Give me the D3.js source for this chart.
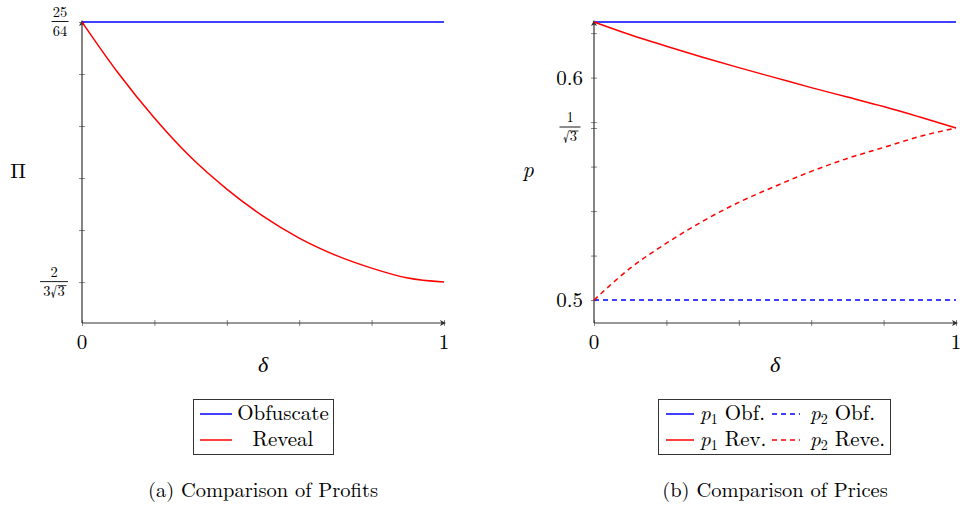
<!DOCTYPE html>
<html><head><meta charset="utf-8">
<script src="https://cdn.jsdelivr.net/npm/d3@7"></script>
<style>body{margin:0;background:#fff}svg{display:block}</style>
</head><body><svg id="c" width="960" height="510"></svg>
<script>
// ---- data ----
const delta = [0, 0.1, 0.2, 0.3, 0.4, 0.5, 0.6, 0.7, 0.8, 0.9, 1.0];
const profitObf = [0.390625, 0.390625, 0.390625, 0.390625, 0.390625, 0.390625, 0.390625, 0.390625, 0.390625, 0.390625, 0.390625];
const profitRev = [0.390625, 0.389502, 0.388511, 0.387652, 0.386948, 0.386353, 0.385869, 0.385494, 0.385208, 0.384988, 0.384900];
const p1Obf = [0.625, 0.625, 0.625, 0.625, 0.625, 0.625, 0.625, 0.625, 0.625, 0.625, 0.625];
const p2Obf = [0.5, 0.5, 0.5, 0.5, 0.5, 0.5, 0.5, 0.5, 0.5, 0.5, 0.5];
const p1Rev = [0.625, 0.61927, 0.61412, 0.60918, 0.60448, 0.6, 0.59551, 0.59125, 0.58699, 0.58228, 0.57735];
const p2Rev = [0.5, 0.51435, 0.52556, 0.53542, 0.54394, 0.55112, 0.55784, 0.56367, 0.56861, 0.57354, 0.57735];
const xTicks = [0, 0.2, 0.4, 0.6, 0.8, 1];
const xTickLabels = ["0", "", "", "", "", "1"];
const yTicksA = [0.3849, 0.386045, 0.38719, 0.388335, 0.38948, 0.390625];
const yTicksB = [0.5, 0.52, 0.54, 0.56, 0.57735, 0.58, 0.6, 0.62];
const yLabelsB = [{v: 0.6, t: "0.6"}, {v: 0.5, t: "0.5"}];
const legendA = ["Obfuscate", "Reveal"];
const legendB = [["p", "1", " Obf."], ["p", "2", " Obf."], ["p", "1", " Rev."], ["p", "2", " Reve."]];
const captions = ["(a) Comparison of Profits", "(b) Comparison of Prices"];

const FONT = '"Latin Modern Roman", "CMU Serif", "Liberation Serif", serif';
const svg = d3.select("#c");
const BLUE = "#0000ff", RED = "#ff0000", AX = "#333";

function T(sel) { return sel.append("text").style("font-family", FONT).attr("fill", "#000"); }

const xA = d3.scaleLinear([0, 1], [82, 444]);
const yA = d3.scaleLinear([0.384, 0.390625], [323, 22]);
const xB = d3.scaleLinear([0, 1], [594, 956]);
const yB = d3.scaleLinear([0.4897, 0.625], [323, 22]);

function axes(x, y, yt) {
  const g = svg.append("g");
  const x0 = x.range()[0], y0 = y.range()[0];
  g.append("g").attr("transform", `translate(0,${y0})`)
    .call(d3.axisBottom(x).tickValues(xTicks).tickSize(3).tickFormat(""));
  g.append("g").attr("transform", `translate(0,${y0})`)
    .call(d3.axisTop(x).tickValues(xTicks).tickSize(3).tickFormat(""));
  g.append("g").attr("transform", `translate(${x0},0)`)
    .call(d3.axisLeft(y).tickValues(yt).tickSize(3).tickFormat(""));
  g.append("g").attr("transform", `translate(${x0},0)`)
    .call(d3.axisRight(y).tickValues(yt).tickSize(3).tickFormat(""));
  g.selectAll(".domain").remove();
  g.selectAll(".tick line").attr("stroke", "#666").attr("stroke-width", 0.8);
  const x1 = x.range()[1], y1 = y.range()[1];
  g.append("line").attr("x1", x0).attr("x2", x1 + 1).attr("y1", y0).attr("y2", y0).attr("stroke", AX).attr("stroke-width", 1.2);
  g.append("line").attr("x1", x0).attr("x2", x0).attr("y1", y0).attr("y2", y1 - 1).attr("stroke", AX).attr("stroke-width", 1.2);
  g.append("path").attr("d", `M${x1 + 2},${y0} l-6,-3 l1.5,3 l-1.5,3 Z`).attr("fill", AX);
  g.append("path").attr("d", `M${x0},${y1 - 2} l-3,6 l3,-1.5 l3,1.5 Z`).attr("fill", AX);
  xTicks.forEach((v, i) => {
    if (xTickLabels[i]) T(g).attr("x", x(v)).attr("y", y0 + 26).attr("text-anchor", "middle").attr("font-size", 21).text(xTickLabels[i]);
  });
}

// fraction: numerator tspan over denominator tspan with a bar between
function frac(cx, cy, num, den, fs, w) {
  const g = svg.append("g");
  const t = T(g).attr("font-size", fs).attr("text-anchor", "middle");
  t.append("tspan").attr("x", cx).attr("y", cy - 5).text(num);
  t.append("tspan").attr("x", cx).attr("y", cy + 14).text(den);
  g.append("line").attr("x1", cx - w / 2).attr("x2", cx + w / 2).attr("y1", cy).attr("y2", cy).attr("stroke", "#000").attr("stroke-width", 0.9);
  return g;
}

// ---- Panel A ----
axes(xA, yA, yTicksA);
const lineA = d3.line().x((d, i) => xA(delta[i])).y(d => yA(d)).curve(d3.curveMonotoneX);
svg.append("path").attr("d", lineA(profitObf)).attr("fill", "none").attr("stroke", BLUE).attr("stroke-width", 1.5);
svg.append("path").attr("d", lineA(profitRev)).attr("fill", "none").attr("stroke", RED).attr("stroke-width", 1.5);
frac(60, yA(0.390625) - 0.5, "25", "64", 14.5, 17);
{
  const cy = yA(0.3849) - 0.5;
  const g = frac(54, cy, "2", "3√3", 14.5, 28);
  g.append("line").attr("x1", 58).attr("x2", 66.5).attr("y1", cy + 4).attr("y2", cy + 4).attr("stroke", "#000").attr("stroke-width", 0.8);
}
T(svg).attr("x", 18).attr("y", 178).attr("text-anchor", "middle").attr("font-size", 21).text("Π");
T(svg).attr("x", 263).attr("y", 372).attr("text-anchor", "middle").attr("font-size", 22).attr("font-style", "italic").text("δ");

// ---- Panel B ----
axes(xB, yB, yTicksB);
const lineB = d3.line().x((d, i) => xB(delta[i])).y(d => yB(d)).curve(d3.curveMonotoneX);
svg.append("path").attr("d", lineB(p1Obf)).attr("fill", "none").attr("stroke", BLUE).attr("stroke-width", 1.5);
svg.append("path").attr("d", lineB(p2Obf)).attr("fill", "none").attr("stroke", BLUE).attr("stroke-width", 1.5).attr("stroke-dasharray", "5,4");
svg.append("path").attr("d", lineB(p1Rev)).attr("fill", "none").attr("stroke", RED).attr("stroke-width", 1.5);
svg.append("path").attr("d", lineB(p2Rev)).attr("fill", "none").attr("stroke", RED).attr("stroke-width", 1.5).attr("stroke-dasharray", "5,4");
yLabelsB.forEach(d => T(svg).attr("x", 583).attr("y", yB(d.v) + 7).attr("text-anchor", "end").attr("font-size", 21).text(d.t));
{
  const cy = yB(0.57735) - 1;
  const g = frac(570, cy, "1", "√3", 14.5, 21);
  g.append("line").attr("x1", 569.5).attr("x2", 578.5).attr("y1", cy + 4).attr("y2", cy + 4).attr("stroke", "#000").attr("stroke-width", 0.8);
}
T(svg).attr("x", 528).attr("y", 177).attr("text-anchor", "middle").attr("font-size", 22).attr("font-style", "italic").text("p");
T(svg).attr("x", 775).attr("y", 372).attr("text-anchor", "middle").attr("font-size", 22).attr("font-style", "italic").text("δ");

// ---- Legend A ----
{
  const g = svg.append("g");
  g.append("rect").attr("x", 193.5).attr("y", 399.5).attr("width", 140).attr("height", 55).attr("fill", "#fff").attr("stroke", "#333").attr("stroke-width", 1);
  const cols = [BLUE, RED];
  legendA.forEach((t, i) => {
    const y = 414 + i * 26;
    g.append("line").attr("x1", 200).attr("x2", 232).attr("y1", y).attr("y2", y).attr("stroke", cols[i]).attr("stroke-width", 1.5);
    T(g).attr("x", 283).attr("y", y + 6).attr("text-anchor", "middle").attr("font-size", 21).text(t);
  });
}
// ---- Legend B ----
{
  const g = svg.append("g");
  g.append("rect").attr("x", 658.5).attr("y", 399.5).attr("width", 232).attr("height", 55).attr("fill", "#fff").attr("stroke", "#333").attr("stroke-width", 1);
  const cols = [BLUE, BLUE, RED, RED];
  const dash = [null, "5,4", null, "5,4"];
  legendB.forEach((t, i) => {
    const row = Math.floor(i / 2), col = i % 2;
    const y = 414 + row * 26;
    const lx = col === 0 ? 666 : 772;
    const tx = col === 0 ? 700 : 810;
    const ln = g.append("line").attr("x1", lx).attr("x2", lx + 28).attr("y1", y).attr("y2", y).attr("stroke", cols[i]).attr("stroke-width", 1.5);
    if (dash[i]) ln.attr("stroke-dasharray", dash[i]);
    const tt = T(g).attr("x", tx).attr("y", y + 6).attr("font-size", 21);
    tt.append("tspan").attr("font-style", "italic").text(t[0]);
    tt.append("tspan").attr("font-size", 14).attr("dy", 4).text(t[1]);
    tt.append("tspan").attr("dy", -4).text(t[2]);
  });
}
// ---- captions ----
T(svg).attr("x", 263).attr("y", 497).attr("text-anchor", "middle").attr("font-size", 20.5).text(captions[0]);
T(svg).attr("x", 775).attr("y", 497).attr("text-anchor", "middle").attr("font-size", 20.5).text(captions[1]);
</script></body></html>
